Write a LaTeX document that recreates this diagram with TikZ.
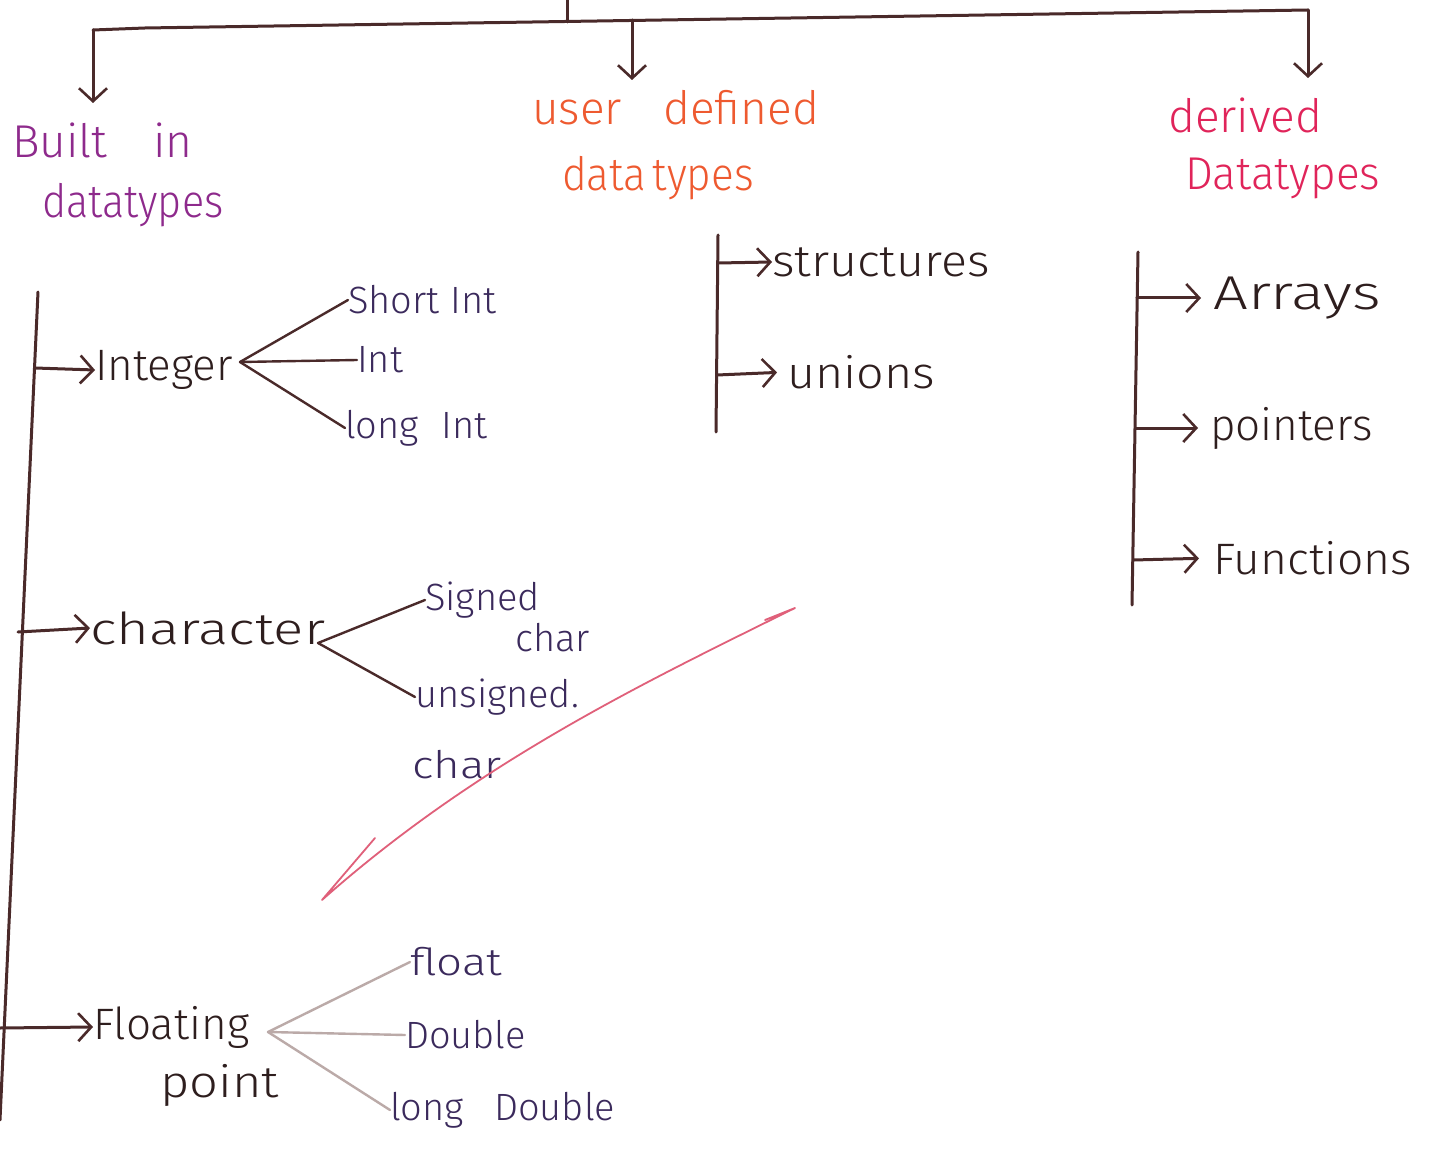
\documentclass[tikz,border=0pt]{standalone}
\usepackage{fontspec}
\setmainfont{Fira Sans Light}
\usetikzlibrary{arrows.meta}
\definecolor{ink}{HTML}{2E1E1E}
\definecolor{rule}{HTML}{4A2A2A}
\definecolor{leaf}{HTML}{3B2A5C}
\definecolor{faint}{HTML}{BBAAA8}
\definecolor{plum}{HTML}{8E2A8C}
\definecolor{tangerine}{HTML}{EE5A30}
\definecolor{crimson}{HTML}{E0245A}
\definecolor{tick}{HTML}{E0607A}
\tikzset{
  rulepen/.style={draw=rule, line width=3pt, line cap=round},
  arr/.style={rulepen, -{Straight Barb[length=13pt,width=28pt,line width=2.6pt]}},
  branch/.style={rulepen, line width=2.4pt},
  fbranch/.style={draw=faint, line width=2.4pt, line cap=round},
  lbl/.style={anchor=west, inner sep=0pt, font=\fontsize{44}{50}\selectfont, text=ink},
  leaflbl/.style={lbl, text=leaf, font=\fontsize{38}{44}\selectfont},
  head/.style={anchor=west, inner sep=0pt, font=\fontsize{46}{52}\selectfont},
}
\begin{document}
\begin{tikzpicture}[x=1pt,y=-1pt]
\useasboundingbox (0,0) rectangle (1430,1166);
\fill[white] (0,0) rectangle (1430,1166);

% top bar with three drops
\coordinate (root) at (567,0);
\coordinate (rj) at (567,22);
\coordinate (lc) at (93,30);
\coordinate (lk) at (145,28);
\coordinate (mc) at (632,20);
\coordinate (rc) at (1308,10);
\coordinate (a1) at (93,103);
\coordinate (a2) at (632,80);
\coordinate (a3) at (1308,78);
\draw[rulepen] (root) -- (rj);
\draw[rulepen] (lc) -- (lk) -- (rc);
\draw[arr] (lc) -- (a1);
\draw[arr] (mc) -- (a2);
\draw[arr] (rc) -- (a3);

% column headings
\node[head, text=plum] (bi1) at (12,140) {Built\hspace{1em}in};
\node[head, text=plum] (bi2) at (42,205) {\scalebox{0.9}[1]{datatypes}};
\node[head, text=tangerine] (ud1) at (532,108) {user\hspace{0.9em}defined};
\node[head, text=tangerine] (ud2) at (562,178) {\scalebox{0.92}[1]{data\hspace{0.15em}types}};
\node[head, text=crimson] (dd1) at (1168,115) {derived};
\node[head, text=crimson] (dd2) at (1185,178) {\scalebox{0.96}[1]{Datatypes}};

% built-in trunk
\coordinate (bt0) at (38,292);
\coordinate (bt1) at (0,1120);
\draw[rulepen] (bt0) -- (bt1);
\coordinate (bi-int) at (35,368);
\coordinate (bi-chr) at (18,632);
\coordinate (bi-flt) at (0,1028);

\node[lbl] (integer) at (95,370) {Integer};
\node[lbl] (character) at (90,628) {\scalebox{1.28}[1]{character}};
\node[lbl] (floating) at (93,1027) {Floating};
\node[lbl] (point) at (160,1085) {\scalebox{1.15}[1]{point}};
\draw[arr] (bi-int) -- (integer.west);
\draw[arr] (bi-chr) -- (character.west);
\draw[arr] (bi-flt) -- (floating.west);

% integer kinds
\coordinate (ifork) at (240,362);
\node[leaflbl] (shortint) at (348,300) {Short Int};
\node[leaflbl] (int) at (357,360) {Int};
\node[leaflbl] (longint) at (345,428) {long\hspace{0.6em}Int};
\draw[branch] (ifork) -- (shortint.west);
\draw[branch] (ifork) -- (int.west);
\draw[branch] (ifork) -- (longint.west);

% character kinds
\coordinate (cfork) at (318,643);
\node[leaflbl] (signed) at (425,600) {Signed};
\node[leaflbl] (signedc) at (515,638) {char};
\node[leaflbl] (unsigned) at (415,697) {unsigned.};
\node[leaflbl] (unsignedc) at (412,765) {\scalebox{1.2}[1]{char}};
\draw[branch] (cfork) -- (signed.west);
\draw[branch] (cfork) -- (unsigned.west);

% floating-point kinds
\coordinate (ffork) at (268,1032);
\node[leaflbl] (float) at (410,962) {\scalebox{1.2}[1]{float}};
\node[leaflbl] (double) at (405,1035) {Double};
\node[leaflbl] (ldouble) at (390,1110) {long\hspace{0.8em}Double};
\draw[fbranch] (ffork) -- (float.west);
\draw[fbranch] (ffork) -- (double.west);
\draw[fbranch] (ffork) -- (ldouble.west);

% pink check stroke
\coordinate (k0) at (375,838);
\coordinate (k1) at (322,900);
\coordinate (k2) at (795,608);
\coordinate (k3) at (765,620);
\draw[draw=tick, line width=1.8pt, line cap=round, line join=round]
  (k0) -- (k1) .. controls (480,760) and (650,680) .. (k2) -- (k3);

% user-defined column
\coordinate (ut0) at (718,235);
\coordinate (ut1) at (716,432);
\draw[rulepen] (ut0) -- (ut1);
\coordinate (u-str) at (718,263);
\coordinate (u-uni) at (717,375);
\node[lbl] (structures) at (772,262) {\scalebox{1.1}[1]{structures}};
\node[lbl] (unions) at (787,372) {\scalebox{1.1}[1]{unions}};
\draw[arr] (u-str) -- (structures.west);
\draw[arr, shorten >=10pt] (u-uni) -- (unions.west);

% derived column
\coordinate (dt0) at (1138,252);
\coordinate (dt1) at (1132,605);
\draw[rulepen] (dt0) -- (dt1);
\coordinate (d-arr) at (1137,298);
\coordinate (d-ptr) at (1135,428);
\coordinate (d-fun) at (1133,560);
\node[lbl] (arrays) at (1213,298) {\scalebox{1.4}[1.08]{Arrays}};
\node[lbl] (pointers) at (1210,428) {pointers};
\node[lbl] (functions) at (1213,558) {\scalebox{1.05}[1]{Functions}};
\draw[arr, shorten >=12pt] (d-arr) -- (arrays.west);
\draw[arr, shorten >=12pt] (d-ptr) -- (pointers.west);
\draw[arr, shorten >=14pt] (d-fun) -- (functions.west);
\end{tikzpicture}
\end{document}
